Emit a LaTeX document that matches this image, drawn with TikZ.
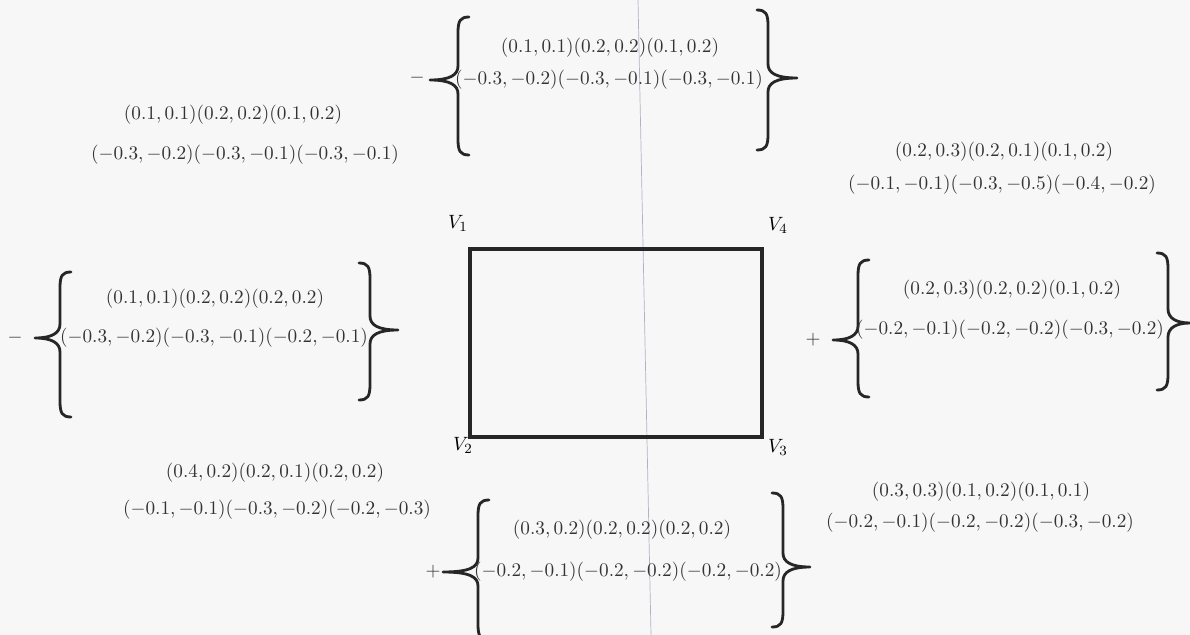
\documentclass[tikz,border=0pt]{standalone}
\usepackage{fontspec}
% curly brace with a long tip: tip x, arm x, tip y, top y, bottom y, side (1 opens, -1 closes)
\newcommand\brc[6]{%
  \draw[brace] ({#2+#6*11},#4) .. controls ({#2+#6*2},#4) and (#2,#4+4) .. (#2,#4+16)
    -- (#2,#3-14) .. controls (#2,#3-5) and ({#2-#6*8},#3) .. (#1,#3)
    .. controls ({#2-#6*8},#3) and (#2,#3+5) .. (#2,#3+14)
    -- (#2,#5-16) .. controls (#2,#5-4) and ({#2+#6*2},#5) .. ({#2+#6*11},#5);}
\begin{document}
\begin{tikzpicture}[x=0.02cm, y=-0.02cm,
  pairs/.style={inner sep=0pt, text=black!80, font=\fontsize{11}{13}\selectfont},
  sign/.style={inner sep=0pt, text=black!80, font=\fontsize{11}{13}\selectfont},
  vlabel/.style={inner sep=0pt, font=\fontsize{11}{13}\selectfont},
  brace/.style={line width=1.6pt, line cap=round, line join=round, black!85}]
\fill[black!3] (0,0) rectangle (1190,635);
\useasboundingbox (0,0) rectangle (1190,635);
% fold line of the scan
\draw[blue!25!black!30, line width=0.4pt] (638,0) -- (651,635);

% square
\coordinate (v1) at (470,249);
\coordinate (v4) at (762,249);
\coordinate (v3) at (762,437);
\coordinate (v2) at (470,437);
\draw[line width=1.8pt, black!85] (v1) -- (v4) -- (v3) -- (v2) -- cycle;
\node[vlabel] (lv1) at (458,223) {$V_1$};
\node[vlabel] (lv4) at (778,225) {$V_4$};
\node[vlabel] (lv2) at (463,445) {$V_2$};
\node[vlabel] (lv3) at (778,447) {$V_3$};

% top
\node[sign] (topsign) at (417,78) {$-$};
\brc{430}{458}{80}{17}{155}{1}
\node[pairs] (top1) at (610,48) {$(0.1,0.1)(0.2,0.2)(0.1,0.2)$};
\node[pairs] (top2) at (609,80) {$(-0.3,-0.2)(-0.3,-0.1)(-0.3,-0.1)$};
\brc{797}{768}{78}{10}{150}{-1}
\node[pairs] (tl1) at (233,115) {$(0.1,0.1)(0.2,0.2)(0.1,0.2)$};
\node[pairs] (tl2) at (245,155) {$(-0.3,-0.2)(-0.3,-0.1)(-0.3,-0.1)$};
\node[pairs] (tr1) at (1004,152) {$(0.2,0.3)(0.2,0.1)(0.1,0.2)$};
\node[pairs] (tr2) at (1002,185) {$(-0.1,-0.1)(-0.3,-0.5)(-0.4,-0.2)$};

% left
\node[sign] (leftsign) at (15,338) {$-$};
\brc{35}{60}{338}{272}{417}{1}
\node[pairs] (left1) at (215,299) {$(0.1,0.1)(0.2,0.2)(0.2,0.2)$};
\node[pairs] (left2) at (214,338) {$(-0.3,-0.2)(-0.3,-0.1)(-0.2,-0.1)$};
\brc{398}{370}{330}{263}{400}{-1}

% right
\node[sign] (rightsign) at (813,340) {$+$};
\brc{833}{858}{340}{260}{397}{1}
\node[pairs] (right1) at (1012,290) {$(0.2,0.3)(0.2,0.2)(0.1,0.2)$};
\node[pairs] (right2) at (1010,330) {$(-0.2,-0.1)(-0.2,-0.2)(-0.3,-0.2)$};
\brc{1190}{1168}{323}{253}{390}{-1}

% bottom
\node[pairs] (bl1) at (275,473) {$(0.4,0.2)(0.2,0.1)(0.2,0.2)$};
\node[pairs] (bl2) at (277,510) {$(-0.1,-0.1)(-0.3,-0.2)(-0.2,-0.3)$};
\node[sign] (botsign) at (433,572) {$+$};
\brc{443}{478}{572}{500}{640}{1}
\node[pairs] (bot1) at (622,530) {$(0.3,0.2)(0.2,0.2)(0.2,0.2)$};
\node[pairs] (bot2) at (628,572) {$(-0.2,-0.1)(-0.2,-0.2)(-0.2,-0.2)$};
\brc{810}{783}{567}{493}{627}{-1}
\node[pairs] (br1) at (981,492) {$(0.3,0.3)(0.1,0.2)(0.1,0.1)$};
\node[pairs] (br2) at (980,523) {$(-0.2,-0.1)(-0.2,-0.2)(-0.3,-0.2)$};
\end{tikzpicture}
\end{document}
